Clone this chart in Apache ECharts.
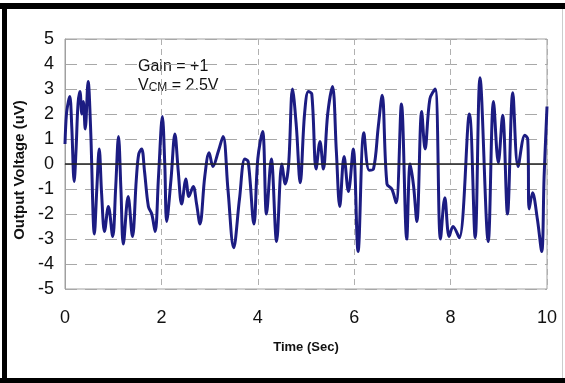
<!DOCTYPE html>
<html>
<head>
<meta charset="utf-8">
<script src="https://cdn.jsdelivr.net/npm/echarts@6/dist/echarts.min.js"></script>
<style>
  html, body { margin: 0; padding: 0; background: #fff; }
  #chart { width: 565px; height: 383px; }
</style>
</head>
<body>
<div id="chart"></div>
<script>
// time (sec) and output voltage (uV)
var times = [
  0.00, 0.03, 0.07, 0.10, 0.14, 0.19, 0.23, 0.27, 0.31, 0.35, 0.38, 0.42, 0.48, 0.53,
  0.61, 0.66, 0.71, 0.76, 0.82, 0.90, 0.99, 1.05, 1.11, 1.16, 1.21, 1.31, 1.40, 1.48,
  1.53, 1.59, 1.65, 1.73, 1.80, 1.87, 1.94, 2.02, 2.07, 2.11, 2.20, 2.28, 2.35, 2.42,
  2.51, 2.57, 2.66, 2.73, 2.80, 2.90, 2.99, 3.07, 3.18, 3.28, 3.38, 3.50, 3.62, 3.73,
  3.80, 3.92, 4.00, 4.10, 4.18, 4.28, 4.39, 4.50, 4.57, 4.64, 4.72, 4.80, 4.88, 4.97,
  5.05, 5.12, 5.21, 5.29, 5.36, 5.45, 5.55, 5.63, 5.70, 5.79, 5.88, 5.98, 6.08, 6.20,
  6.31, 6.40, 6.50, 6.58, 6.68, 6.78, 6.87, 6.98, 7.09, 7.16, 7.23, 7.30, 7.40, 7.47,
  7.57, 7.68, 7.79, 7.88, 7.97, 8.05, 8.18, 8.39, 8.51, 8.61, 8.78, 8.89, 8.99, 9.08,
  9.18, 9.29, 9.40, 9.54, 9.60, 9.63, 9.70, 9.80, 9.89, 9.94, 10.00
];
var volts = [
  0.8, 2.0, 2.5, 2.7, 1.5, -0.7, 0.6, 2.4, 2.9, 2.0, 2.5, 1.4, 3.3, 1.5,
  -2.8, -1.0, 0.6, -1.2, -2.7, -1.7, -2.9, -1.0, 1.1, -1.0, -3.2, -1.3, -2.9, -0.6,
  0.4, 0.6, -0.3, -1.7, -2.0, -2.7, -0.5, 1.9, 0.0, -2.3, -0.6, 1.2, -0.3, -1.6,
  -0.6, -1.3, -0.9, -1.6, -2.4, -0.5, 0.45, -0.1, 0.5, 1.1, -1.0, -3.35, -1.4, 0.2,
  0.1, -2.4, 0.2, 1.3, -2.0, 0.2, -3.1, 0.0, -0.8, 0.0, 3.0, 1.5, -0.75, 2.0,
  2.9, 2.8, -0.2, 0.9, -0.2, 2.0, 3.1, 0.5, -1.7, 0.3, -1.1, 0.6, -3.5, 1.25,
  -0.25, -0.2, 1.5, 2.75, -0.8, -1.0, -1.55, 2.4, -3.0, 0.0, -0.85, -2.3, 2.1, 0.6,
  2.6, 3.0, -3.0, -1.35, -2.9, -2.5, -2.95, 2.0, -2.95, 3.45, -3.1, 2.5, 0.05, 1.95,
  -2.0, 2.85, -0.1, 1.15, 1.0, -1.8, -1.15, -2.2, -3.5, -0.5, 2.3
];

var chartDom = document.getElementById('chart');
var myChart = echarts.init(chartDom);

var points = [];
for (var i = 0; i < times.length; i++) {
  points.push([times[i], volts[i]]);
}

var option = {
  backgroundColor: '#fff',
  animation: false,
  grid: {
    left: 65,
    right: 18,
    top: 39,
    bottom: 94,
    show: true,
    borderColor: '#a0a0a0',
    borderWidth: 1
  },
  xAxis: {
    type: 'value',
    min: 0,
    max: 10,
    interval: 2,
    name: 'Time (Sec)',
    nameLocation: 'middle',
    nameGap: 52,
    nameTextStyle: {
      fontFamily: 'Liberation Sans Narrow, Liberation Sans, Arial',
      fontWeight: 'bold',
      fontSize: 13,
      color: '#111'
    },
    axisLine: { show: true, lineStyle: { color: '#a0a0a0' } },
    axisTick: { show: false },
    axisLabel: {
      margin: 20,
      fontFamily: 'Liberation Sans Narrow, Liberation Sans, Arial',
      fontSize: 18,
      color: '#111'
    },
    splitLine: {
      show: true,
      lineStyle: { color: '#b0b0b0', type: [6, 4], width: 1 }
    }
  },
  yAxis: {
    type: 'value',
    min: -5,
    max: 5,
    interval: 1,
    name: 'Output Voltage (uV)',
    nameLocation: 'middle',
    nameGap: 35,
    nameTextStyle: {
      fontFamily: 'Liberation Sans Narrow, Liberation Sans, Arial',
      fontWeight: 'bold',
      fontSize: 15,
      color: '#111',
      padding: [0, 12, 0, 0]
    },
    axisLine: { show: true, lineStyle: { color: '#a0a0a0' } },
    axisTick: { show: false },
    axisLabel: {
      margin: 11,
      fontFamily: 'Liberation Sans Narrow, Liberation Sans, Arial',
      fontSize: 18,
      color: '#111'
    },
    splitLine: {
      show: true,
      lineStyle: { color: '#a8a8a8', type: [12, 8], width: 1.2 }
    }
  },
  series: [
    {
      name: 'Output',
      type: 'line',
      data: points,
      showSymbol: false,
      smooth: 0.35,
      lineStyle: { color: '#1c1c82', width: 3 },
      markLine: {
        silent: true,
        symbol: 'none',
        label: { show: false },
        lineStyle: { color: '#222', type: 'solid', width: 1.5 },
        data: [{ yAxis: 0 }]
      },
      z: 3
    }
  ],
  graphic: [
    {
      type: 'text',
      left: 138,
      top: 59,
      style: {
        text: 'Gain = +1',
        font: '16px "Liberation Sans", Arial',
        fill: '#111'
      }
    },
    {
      type: 'text',
      left: 138,
      top: 78,
      style: {
        text: '{v|V}{s|CM}{v| = 2.5V}',
        rich: {
          v: { font: '16px "Liberation Sans", Arial', fill: '#111' },
          s: { font: '12px "Liberation Sans", Arial', fill: '#111', verticalAlign: 'bottom' }
        }
      }
    },
    // black frame on left, top and bottom
    {
      type: 'rect',
      silent: true,
      shape: { x: 0, y: 3, width: 565, height: 6 },
      style: { fill: '#000' }
    },
    {
      type: 'rect',
      silent: true,
      shape: { x: 2, y: 3, width: 5, height: 380 },
      style: { fill: '#000' }
    },
    {
      type: 'rect',
      silent: true,
      shape: { x: 0, y: 378, width: 565, height: 5 },
      style: { fill: '#000' }
    },
    {
      type: 'rect',
      silent: true,
      shape: { x: 562, y: 9, width: 1, height: 369 },
      style: { fill: '#ccc' }
    }
  ]
};

option && myChart.setOption(option);
</script>
</body>
</html>
